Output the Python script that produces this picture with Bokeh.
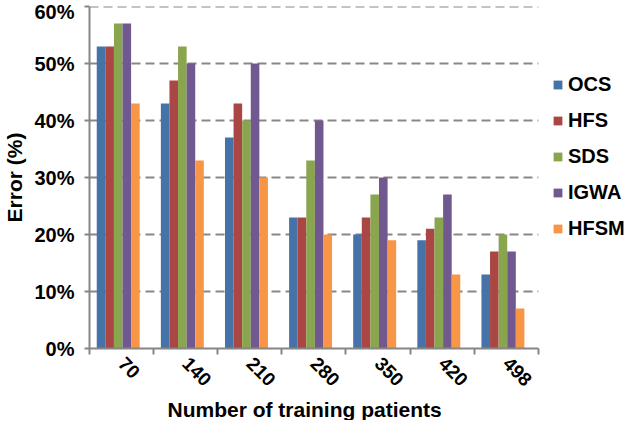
import numpy as np
from bokeh.plotting import figure
from bokeh.models import (FixedTicker, Legend, LegendItem, Range1d, Title,
                          PrintfTickFormatter, ColumnDataSource)
from bokeh.embed import file_html
from bokeh.resources import INLINE

categories = ["70", "140", "210", "280", "350", "420", "498"]
series = ["OCS", "HFS", "SDS", "IGWA", "HFSM"]
OCS = [53, 43, 37, 23, 20, 19, 13]
HFS = [53, 47, 43, 23, 23, 21, 17]
SDS = [57, 53, 40, 33, 27, 23, 20]
IGWA = [57, 50, 50, 40, 30, 27, 17]
HFSM = [43, 33, 30, 20, 19, 13, 7]
values = [OCS, HFS, SDS, IGWA, HFSM]
colors = ["#4572A7", "#AA4643", "#89A54E", "#71588F", "#F79646"]
y_ticks = [0, 10, 20, 30, 40, 50, 60]

FONT = "Liberation Sans"
GRAY = "#868686"

W, H = 626, 420
LEFT = 84          # frame left (figure px)
PLOT_W = 453       # width used by the 7 categories
ncat = len(categories)
x_end = ncat * (W - LEFT) / PLOT_W   # frame extends to the right edge (legend lives there)

p = figure(width=W, height=H, x_range=Range1d(0, x_end),
           y_range=Range1d(0, 60), output_backend="svg", toolbar_location=None,
           min_border_left=LEFT, min_border_right=0, min_border_top=6,
           min_border_bottom=70)
p.outline_line_color = None
p.background_fill_color = "white"
p.xgrid.grid_line_color = None
p.ygrid.grid_line_color = None

# dashed horizontal grid limited to the category span
p.segment(x0=0, x1=ncat, y0=y_ticks[1:], y1=y_ticks[1:], line_color="#878787",
          line_width=2, line_dash="9 5")

bar_w = 0.134
start = 0.18
idx = np.arange(ncat)
items = []
for k, (name, vals, col) in enumerate(zip(series, values, colors)):
    src = ColumnDataSource(dict(x=idx + start + k * bar_w, top=vals))
    r = p.vbar(x="x", top="top", width=bar_w, bottom=0, source=src,
               fill_color=col, line_color=None)
    items.append(LegendItem(label=name, renderers=[r]))

# y axis
ya = p.yaxis[0]
ya.ticker = FixedTicker(ticks=y_ticks)
ya.formatter = PrintfTickFormatter(format="%d%%")
ya.axis_line_color = GRAY
ya.axis_line_width = 2
ya.major_tick_line_color = GRAY
ya.major_tick_line_width = 2
ya.major_tick_out = 5
ya.major_tick_in = 0
ya.minor_tick_line_color = None
ya.major_label_text_font = FONT
ya.major_label_text_font_style = "bold"
ya.major_label_text_font_size = "20px"
ya.major_label_text_color = "black"
ya.major_label_standoff = 10
ya.axis_label = "Error (%)"
ya.axis_label_text_font = FONT
ya.axis_label_text_font_style = "bold"
ya.axis_label_text_font_size = "21px"
ya.axis_label_text_color = "black"
ya.axis_label_standoff = 5

# x axis
xa = p.xaxis[0]
centers = [i + 0.5 for i in range(ncat)]
xa.bounds = (0, ncat)
xa.ticker = FixedTicker(ticks=centers, minor_ticks=list(range(ncat + 1)))
xa.major_label_overrides = {c: lab for c, lab in zip(centers, categories)}
xa.major_label_orientation = -np.pi / 4
xa.axis_line_color = GRAY
xa.axis_line_width = 2
xa.major_tick_line_color = None
xa.major_tick_out = 0
xa.major_tick_in = 0
xa.minor_tick_line_color = GRAY
xa.minor_tick_line_width = 2
xa.minor_tick_out = 6
xa.minor_tick_in = 0
xa.major_label_text_font = FONT
xa.major_label_text_font_style = "bold"
xa.major_label_text_font_size = "19px"
xa.major_label_text_color = "black"
xa.major_label_standoff = 6

xtitle = Title(text="Number of training patients", align="left", offset=78,
               text_font=FONT, text_font_style="bold", text_font_size="21px",
               text_color="black", standoff=0)
p.add_layout(xtitle, "below")

legend = Legend(items=items, location=(463, 108), orientation="vertical")
legend.border_line_color = None
legend.background_fill_alpha = 0
legend.padding = 0
legend.margin = 0
legend.glyph_width = 11
legend.glyph_height = 11
legend.label_height = 20
legend.spacing = 13
legend.label_standoff = 5
legend.label_text_font = FONT
legend.label_text_font_style = "bold"
legend.label_text_font_size = "20px"
legend.label_text_color = "black"
p.add_layout(legend, "center")

open("out.html", "w").write(file_html(p, INLINE))
